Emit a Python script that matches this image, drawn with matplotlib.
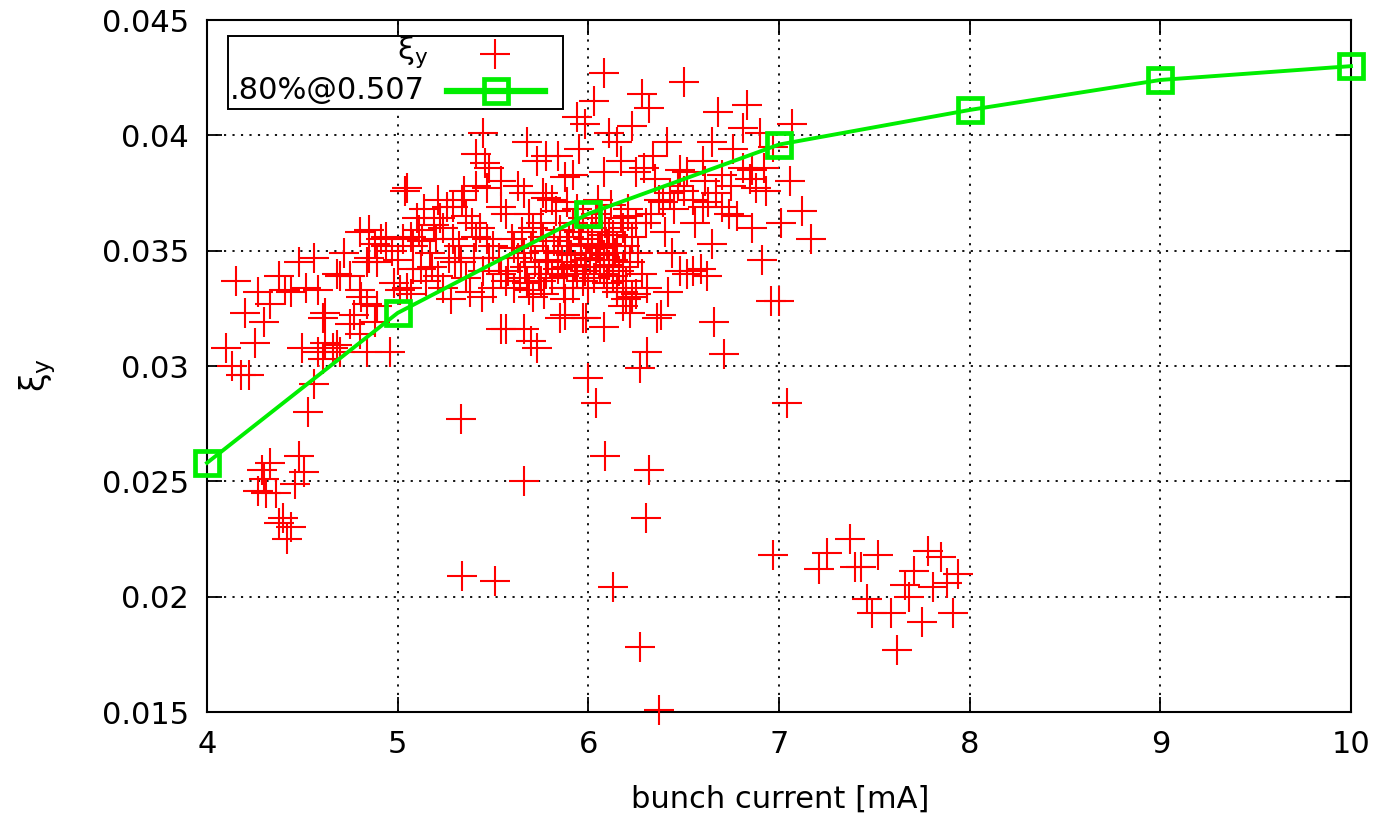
#!/usr/bin/env python3
# -*- coding: utf-8 -*-
"""Vertical beam-beam tune shift vs bunch current: measurement and simulation."""

import matplotlib

matplotlib.use("Agg")

import matplotlib.pyplot as plt
from matplotlib.lines import Line2D
from matplotlib.patches import Rectangle

# measured points, grouped by region of the plot, (current [mA], xi_y)
left_cluster = [
    (4.15, 0.0337), (4.27, 0.0332), (4.20, 0.0323), (4.30, 0.0319), (4.25, 0.0310),
    (4.10, 0.0308), (4.13, 0.0300), (4.18, 0.0296), (4.22, 0.0296), (4.38, 0.0339),
    (4.41, 0.0333), (4.44, 0.0332), (4.33, 0.0327), (4.48, 0.0345), (4.56, 0.0347),
    (4.52, 0.0334), (4.58, 0.0333), (4.62, 0.0323), (4.61, 0.0321), (4.50, 0.0308),
    (4.58, 0.0306), (4.62, 0.0310), (4.66, 0.0308), (4.68, 0.0340), (4.70, 0.0339),
    (4.75, 0.0339), (4.72, 0.0349), (4.68, 0.0309), (4.70, 0.0306), (4.61, 0.0303),
    (4.56, 0.0292), (4.80, 0.0358), (4.85, 0.0359), (4.88, 0.0353), (4.91, 0.0355),
    (4.94, 0.0352), (4.97, 0.0350), (4.94, 0.0356), (4.85, 0.0347), (4.89, 0.0345),
    (4.84, 0.0345), (4.80, 0.0333), (4.81, 0.0330), (4.84, 0.0327), (4.89, 0.0326),
    (4.77, 0.0322), (4.80, 0.0314), (4.75, 0.0318), (4.84, 0.0306), (4.96, 0.0306),
    (5.01, 0.0333), (4.98, 0.0336), (4.88, 0.0319),
]
low_left = [
    (4.53, 0.0280), (4.33, 0.0258), (4.29, 0.0255), (4.48, 0.0261), (4.51, 0.0254),
    (4.27, 0.0246), (4.31, 0.0245), (4.36, 0.0245), (4.46, 0.0249), (4.38, 0.0232),
    (4.40, 0.0234), (4.44, 0.0230), (4.42, 0.0225), (4.30, 0.0251),
]
mid_cluster = [
    (5.45, 0.0401), (5.41, 0.0392), (5.46, 0.0388), (5.48, 0.0386), (5.68, 0.0397),
    (5.73, 0.0389), (5.78, 0.0391), (5.84, 0.0391), (5.95, 0.0394), (5.92, 0.0383),
    (5.88, 0.0382), (5.94, 0.0408), (5.98, 0.0405), (5.54, 0.0380), (5.47, 0.0377),
    (5.41, 0.0378), (5.35, 0.0376), (5.04, 0.0376), (5.05, 0.0377), (5.63, 0.0378),
    (5.66, 0.0375), (5.76, 0.0375), (5.78, 0.0373), (5.81, 0.0372), (5.89, 0.0371),
    (5.21, 0.0372), (5.14, 0.0368), (5.26, 0.0369), (5.29, 0.0369), (5.34, 0.0372),
    (5.54, 0.0369), (5.57, 0.0366), (5.69, 0.0366), (5.71, 0.0360), (5.75, 0.0362),
    (5.36, 0.0365), (5.39, 0.0362), (5.43, 0.0360), (5.47, 0.0355), (5.24, 0.0360),
    (5.19, 0.0361), (5.11, 0.0359), (5.07, 0.0356), (5.08, 0.0352), (5.13, 0.0354),
    (5.20, 0.0355), (5.29, 0.0355), (5.33, 0.0345), (5.30, 0.0345), (5.18, 0.0343),
    (5.12, 0.0342), (5.15, 0.0337), (5.21, 0.0339), (5.24, 0.0334), (5.28, 0.0329),
    (5.38, 0.0332), (5.44, 0.0330), (5.50, 0.0334), (5.54, 0.0340), (5.57, 0.0337),
    (5.61, 0.0334), (5.64, 0.0338), (5.68, 0.0336), (5.71, 0.0330), (5.75, 0.0337),
    (5.78, 0.0340), (5.84, 0.0342), (5.89, 0.0343), (5.94, 0.0340), (5.97, 0.0337),
    (5.92, 0.0334), (5.87, 0.0334), (5.54, 0.0316), (5.66, 0.0316), (5.70, 0.0311),
    (5.85, 0.0321), (5.97, 0.0321), (5.05, 0.0334), (5.08, 0.0342), (5.61, 0.0351),
    (5.66, 0.0349), (5.78, 0.0350), (5.84, 0.0349), (5.89, 0.0352), (5.96, 0.0353),
    (5.99, 0.0346), (5.41, 0.0356), (5.48, 0.0347), (5.73, 0.0308), (5.57, 0.0316),
    (5.88, 0.0322),
]
core = [
    (5.60, 0.0355), (5.63, 0.0347), (5.67, 0.0343), (5.70, 0.0352), (5.72, 0.0345),
    (5.74, 0.0340), (5.76, 0.0356), (5.79, 0.0346), (5.81, 0.0338), (5.82, 0.0354),
    (5.85, 0.0359), (5.86, 0.0345), (5.87, 0.0339), (5.90, 0.0356), (5.91, 0.0348),
    (5.92, 0.0362), (5.93, 0.0344), (5.95, 0.0358), (5.96, 0.0349), (5.97, 0.0364),
    (5.98, 0.0341), (6.00, 0.0355), (6.01, 0.0347), (6.02, 0.0360), (6.03, 0.0338),
    (6.04, 0.0366), (6.05, 0.0351), (6.06, 0.0343), (6.07, 0.0357), (6.08, 0.0348),
    (6.09, 0.0362), (6.10, 0.0353), (6.11, 0.0344), (6.12, 0.0370), (6.13, 0.0357),
    (6.14, 0.0349), (6.16, 0.0341), (6.17, 0.0364), (6.19, 0.0352), (6.20, 0.0337),
    (6.22, 0.0345), (6.23, 0.0356), (6.25, 0.0331), (6.26, 0.0349), (6.28, 0.0340),
    (6.30, 0.0362), (6.31, 0.0334), (5.58, 0.0341), (5.65, 0.0358), (5.69, 0.0333),
    (5.77, 0.0331), (5.83, 0.0367), (5.88, 0.0329), (5.94, 0.0368), (6.00, 0.0334),
    (6.05, 0.0372), (6.15, 0.0332), (6.21, 0.0368), (5.53, 0.0347), (5.50, 0.0352),
    (5.45, 0.0341), (5.40, 0.0347), (5.36, 0.0338), (5.32, 0.0352), (5.27, 0.0347),
    (5.22, 0.0364), (5.17, 0.0349), (5.10, 0.0364), (5.03, 0.0355), (5.00, 0.0346),
    (5.07, 0.0331),
]
right_cluster = [
    (6.08, 0.0427), (6.50, 0.0423), (6.28, 0.0418), (6.32, 0.0412), (6.03, 0.0415),
    (6.68, 0.0410), (6.83, 0.0413), (6.23, 0.0404), (6.11, 0.0401), (6.81, 0.0403),
    (6.90, 0.0401), (7.07, 0.0405), (6.41, 0.0397), (6.15, 0.0397), (6.34, 0.0391),
    (6.17, 0.0389), (6.29, 0.0386), (6.25, 0.0384), (6.08, 0.0384), (6.48, 0.0385),
    (6.52, 0.0384), (6.60, 0.0389), (6.65, 0.0397), (6.76, 0.0394), (6.81, 0.0386),
    (6.86, 0.0385), (6.92, 0.0386), (6.85, 0.0381), (6.88, 0.0377), (6.93, 0.0376),
    (7.06, 0.0380), (7.12, 0.0367), (7.17, 0.0355), (7.01, 0.0362), (6.61, 0.0380),
    (6.67, 0.0375), (6.70, 0.0369), (6.74, 0.0366), (6.78, 0.0365), (6.86, 0.0360),
    (6.55, 0.0372), (6.60, 0.0369), (6.37, 0.0372), (6.39, 0.0371), (6.43, 0.0375),
    (6.47, 0.0378), (6.21, 0.0365), (6.18, 0.0360), (6.25, 0.0362), (6.11, 0.0358),
    (6.06, 0.0352), (6.15, 0.0352), (6.04, 0.0346), (6.13, 0.0346), (6.18, 0.0343),
    (6.08, 0.0340), (6.15, 0.0334), (6.18, 0.0332), (6.20, 0.0329), (6.23, 0.0330),
    (6.18, 0.0326), (6.22, 0.0323), (6.08, 0.0317), (6.38, 0.0322), (6.42, 0.0332),
    (6.65, 0.0353), (6.44, 0.0349), (6.48, 0.0341), (6.52, 0.0340), (6.55, 0.0341),
    (6.62, 0.0339), (6.59, 0.0342), (6.91, 0.0346), (6.96, 0.0328), (7.00, 0.0328),
    (6.66, 0.0319), (6.02, 0.0352), (6.36, 0.0321), (6.10, 0.0336), (6.13, 0.0339),
    (5.99, 0.0321), (6.97, 0.0395), (6.35, 0.0381), (6.45, 0.0368), (6.50, 0.0376),
    (6.56, 0.0362), (6.63, 0.0371), (6.70, 0.0383), (6.75, 0.0378), (6.40, 0.0358),
    (6.33, 0.0366),
]
outliers = [
    (6.04, 0.0284), (6.00, 0.0295), (5.33, 0.0277), (6.09, 0.0261), (6.32, 0.0255),
    (5.66, 0.0250), (6.30, 0.0234), (6.97, 0.0218), (5.34, 0.0209), (5.51, 0.0207),
    (6.13, 0.0204), (6.27, 0.0178), (6.37, 0.0151), (7.04, 0.0284), (6.71, 0.0305),
    (6.31, 0.0306), (6.27, 0.0299),
]
low_right = [
    (7.25, 0.0219), (7.21, 0.0212), (7.37, 0.0225), (7.40, 0.0213), (7.43, 0.0213),
    (7.52, 0.0218), (7.46, 0.0199), (7.49, 0.0193), (7.59, 0.0193), (7.62, 0.0177),
    (7.71, 0.0211), (7.68, 0.0200), (7.66, 0.0205), (7.75, 0.0189), (7.78, 0.0220),
    (7.85, 0.0217), (7.81, 0.0204), (7.88, 0.0206), (7.94, 0.0210), (7.91, 0.0193),
]

# simulation, 0.80% @ 0.507
sim_current = [4, 5, 6, 7, 8, 9, 10]
sim_xi = [0.0258, 0.0323, 0.0366, 0.0396, 0.0411, 0.0424, 0.0430]

y_ticks = [0.015, 0.02, 0.025, 0.03, 0.035, 0.04, 0.045]
x_ticks = [4, 5, 6, 7, 8, 9, 10]

RED = "#ff0000"
GREEN = "#00ee00"
FS = 22
W, H = 1380, 818


def fig_xy(px, py):
    return px / W, 1.0 - py / H


def main():
    plt.rcParams["font.family"] = ["DejaVu Sans"]
    fig = plt.figure(figsize=(W / 100, H / 100), dpi=100)
    ax = fig.add_axes([207 / W, 1 - 712 / H, (1351 - 207) / W, (712 - 20) / H])

    meas = left_cluster + low_left + mid_cluster + core + right_cluster + outliers + low_right
    mx = [p[0] for p in meas]
    my = [p[1] for p in meas]

    ax.plot(mx, my, linestyle="none", marker="+", ms=21, mew=1.5, color=RED,
            clip_on=False, zorder=3)
    ax.plot(sim_current, sim_xi, color=GREEN, lw=2.8, marker="s", ms=17,
            mfc="none", mec=GREEN, mew=3.4, clip_on=False, zorder=4)

    ax.set_xlim(4, 10)
    ax.set_ylim(0.015, 0.045)
    ax.set_xticks(x_ticks)
    ax.set_yticks(y_ticks)
    ax.set_xticklabels([str(v) for v in x_ticks])
    ax.set_yticklabels(["%g" % v for v in y_ticks])
    ax.tick_params(direction="in", length=11, width=1.3, labelsize=FS,
                   top=True, right=True, color="black")
    ax.tick_params(axis="x", pad=13)
    ax.tick_params(axis="y", pad=13)
    ax.grid(True, color="black", linestyle=(0, (1.2, 3.5)), lw=1.3)
    for sp in ax.spines.values():
        sp.set_linewidth(1.5)

    ax.set_xlabel("bunch current [mA]", fontsize=FS)
    ax.set_ylabel("ξ$_\\mathregular{y}$", fontsize=FS + 2)
    ax.xaxis.set_label_coords((780 - 207) / 1144, (712 - 785) / 692)
    ax.yaxis.set_label_coords((58 - 207) / 1144, (712 - 375) / 692)

    # legend box drawn by hand (gnuplot style: right-aligned text, key on the right)
    x0, y0 = fig_xy(228, 109)
    x1, y1 = fig_xy(563, 36)
    fig.patches.append(Rectangle((x0, y0), x1 - x0, y1 - y0, transform=fig.transFigure,
                                 facecolor="white", edgecolor="black", lw=1.4,
                                 zorder=10))
    tx, ty = fig_xy(428, 52)
    fig.text(tx, ty, "ξ$_\\mathregular{y}$", ha="right", va="center", fontsize=FS,
             zorder=11)
    tx, ty = fig_xy(425, 91)
    fig.text(tx, ty, ".80%@0.507", ha="right", va="center", fontsize=FS, zorder=11)
    kx, ky = fig_xy(495, 54)
    fig.lines.append(Line2D([kx], [ky], transform=fig.transFigure, linestyle="none",
                            marker="+", ms=21, mew=1.5, color=RED, zorder=11))
    lx0, ly = fig_xy(447, 91)
    lx1, _ = fig_xy(545, 91)
    fig.lines.append(Line2D([lx0, lx1], [ly, ly], transform=fig.transFigure,
                            color=GREEN, lw=4.5, zorder=11))
    fig.lines.append(Line2D([(lx0 + lx1) / 2], [ly], transform=fig.transFigure,
                            linestyle="none", marker="s", ms=17, mfc="none",
                            mec=GREEN, mew=3.4, zorder=12))

    fig.savefig("out.png", dpi=100)
    plt.close(fig)


if __name__ == "__main__":
    main()
